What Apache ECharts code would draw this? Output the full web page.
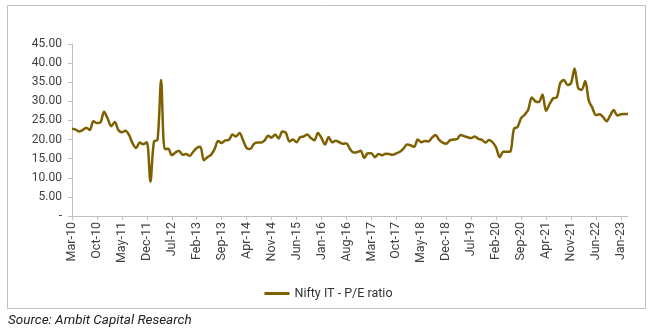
<!DOCTYPE html>
<html><head><meta charset="utf-8">
<script src="https://cdn.jsdelivr.net/npm/echarts@6/dist/echarts.min.js"></script>
<style>html,body{margin:0;padding:0;background:#fff}#c{width:657px;height:332px}</style>
</head><body><div id="c"></div>
<script>
const monthNames = ['Jan','Feb','Mar','Apr','May','Jun','Jul','Aug','Sep','Oct','Nov','Dec'];
const startYear = 2010, startMonth = 2; // Mar-10
const seriesName = 'Nifty IT - P/E ratio';
const peRatio = [
22.8,22.6,22.1,22.5,23.1,22.5,24.8,24.3,24.5,27.3,
25.5,23.5,24.6,22.5,21.9,22.3,21.2,19.0,17.8,19.2,
18.8,19.3,9.0,19.5,19.9,35.6,17.5,17.6,15.9,16.6,
17.1,16.0,16.2,15.7,16.8,17.8,18.1,14.6,15.4,16.0,
17.5,19.6,19.1,19.8,19.9,21.3,20.8,21.7,19.8,17.8,
17.5,18.8,19.2,19.2,19.7,21.0,20.5,21.3,20.3,22.1,
21.8,19.5,20.0,19.3,20.6,20.8,21.3,20.4,19.8,21.7,
20.4,18.7,20.7,19.3,19.7,19.3,18.9,19.0,17.5,16.6,
16.7,17.1,15.2,16.4,16.4,15.4,16.2,15.9,16.3,16.2,
16.0,16.4,16.8,17.6,18.7,18.5,18.1,20.0,19.3,19.6,
19.5,20.5,21.2,19.9,19.2,18.9,19.8,20.0,20.1,21.2,
20.9,20.6,20.4,20.8,20.2,19.9,19.2,19.9,19.3,17.9,
15.4,16.8,16.8,16.9,22.8,23.3,25.6,26.5,27.8,31.0,
30.0,29.8,31.8,27.5,29.3,30.8,31.0,34.8,35.6,34.3,
34.7,38.6,33.5,33.0,35.3,30.2,28.3,26.4,26.6,25.9,
24.8,26.3,27.7,26.3,26.6,26.7,26.7
];
const categories = [];
for (let k = 0; k < peRatio.length; k++) {
  const m = (startMonth + k) % 12;
  const y = startYear + Math.floor((startMonth + k) / 12);
  categories.push(monthNames[m] + '-' + String(y % 100).padStart(2, '0'));
}
const yTicks = [0,5,10,15,20,25,30,35,40,45];

const chart = echarts.init(document.getElementById('c'), null, {renderer:'canvas'});
const font = 'Roboto, "Open Sans", sans-serif';
chart.setOption({
  animation: false,
  graphic: [
    {type:'rect', shape:{x:7.5,y:5.5,width:638,height:303}, style:{fill:'none', stroke:'#c0c0c0', lineWidth:1}, silent:true},
    {type:'text', left:8, top:314, style:{text:'Source: Ambit Capital Research', font:'italic 13.5px Roboto, sans-serif', fill:'#222'}}
  ],
  grid: {left:72, right:29, top:44, bottom:116},
  legend: {
    data:[seriesName], bottom: 27, left: 'center',
    icon: 'rect', itemWidth: 25, itemHeight: 3, itemGap: 4,
    textStyle:{fontFamily:font, fontSize:12.5, color:'#333'}
  },
  xAxis: {
    type:'category', data:categories, boundaryGap:false,
    axisLine:{lineStyle:{color:'#bfbfbf'}},
    axisTick:{interval:6, length:4, lineStyle:{color:'#bfbfbf'}},
    axisLabel:{interval:6, rotate:90, fontFamily:font, fontSize:12.5, color:'#404040', margin:6}
  },
  yAxis: {
    type:'value', min:yTicks[0], max:yTicks[yTicks.length-1], interval:5,
    splitLine:{show:false},
    axisLine:{show:true, lineStyle:{color:'#bfbfbf'}},
    axisTick:{show:true, length:4, lineStyle:{color:'#bfbfbf'}},
    axisLabel:{fontFamily:font, fontSize:12, color:'#404040', margin:10,
      formatter: v => v === 0 ? '-' : v.toFixed(2)}
  },
  series: [{
    name: seriesName, type:'line', data: peRatio, smooth: 0.3,
    showSymbol:false, symbol:'none',
    lineStyle:{color:'#7f6000', width:2.5}, itemStyle:{color:'#7f6000'}
  }]
});
</script></body></html>
